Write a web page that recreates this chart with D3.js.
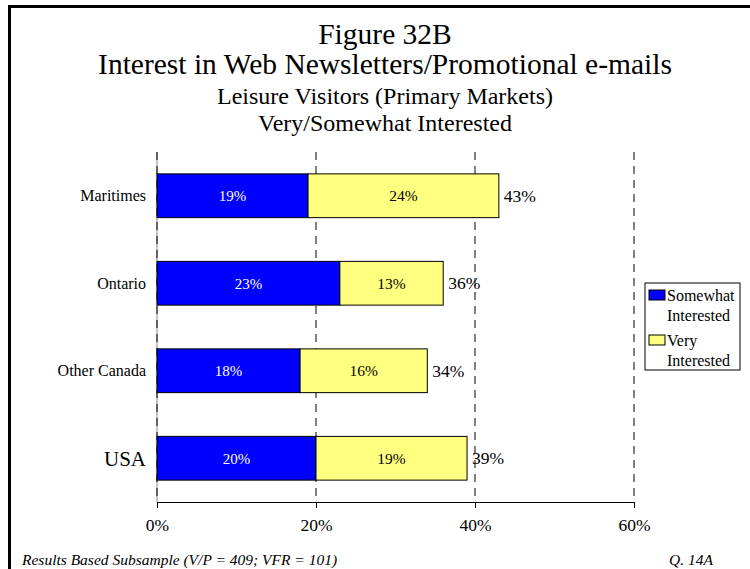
<!DOCTYPE html>
<meta charset="utf-8">
<style>
    body { margin: 0; background: #fff; }
    svg { display: block; }
    svg text { font-family: "Liberation Serif", "Times New Roman", serif; }
    .grid line { stroke: #000; stroke-width: 1px; stroke-dasharray: 8, 6; }
    .title { font-size: 29.5px; text-anchor: middle; }
    .subtitle { font-size: 24px; text-anchor: middle; }
    .foot { font-size: 15.5px; font-style: italic; }
</style>
<body>
<script src="https://d3js.org/d3.v7.min.js"></script>
<script>
    // chart data
    var categories = ["Maritimes", "Ontario", "Other Canada", "USA"];
    var somewhat = [19, 23, 18, 20];
    var very = [24, 13, 16, 19];
    var totals = [43, 36, 34, 39];
    var ticks = [0, 20, 40, 60];
    var seriesNames = ["Somewhat Interested", "Very Interested"];
    var colors = ["#0000ff", "#ffff80"];

    var width = 750, height = 569;
    var plot = {left: 157, right: 634, top: 152, bottom: 502};
    var cx = 385;

    var svg = d3.select("body").append("svg")
        .attr("width", width)
        .attr("height", height);

    // frame (left + top edges)
    svg.append("path")
        .attr("d", "M9.5," + height + "V6.5H" + width)
        .attr("fill", "none")
        .attr("stroke", "#000")
        .attr("stroke-width", 3);

    // titles
    svg.append("text").attr("class", "title").attr("x", cx).attr("y", 44).text("Figure 32B");
    svg.append("text").attr("class", "title").attr("x", cx).attr("y", 74)
        .text("Interest in Web Newsletters/Promotional e-mails");
    svg.append("text").attr("class", "subtitle").attr("x", cx).attr("y", 104)
        .text("Leisure Visitors (Primary Markets)");
    svg.append("text").attr("class", "subtitle").attr("x", cx).attr("y", 131)
        .text("Very/Somewhat Interested");

    var x = d3.scaleLinear().domain([0, 60]).range([plot.left, plot.right]);
    var y = d3.scaleBand().domain(categories).range([plot.top, plot.bottom])
        .paddingInner(0.5).paddingOuter(0.25);

    // dashed gridlines
    svg.append("line")
        .attr("x1", x(0)).attr("x2", x(0))
        .attr("y1", plot.top).attr("y2", plot.bottom)
        .attr("stroke", "#888");
    svg.append("g").attr("class", "grid")
        .selectAll("line").data(ticks).enter().append("line")
        .attr("x1", function(d) { return x(d); })
        .attr("x2", function(d) { return x(d); })
        .attr("y1", plot.top)
        .attr("y2", plot.bottom);

    // x axis
    var xAxis = svg.append("g")
        .attr("transform", "translate(0," + plot.bottom + ")")
        .call(d3.axisBottom(x).tickValues(ticks).tickSize(6)
            .tickFormat(function(d) { return d + "%"; }));
    xAxis.attr("font-family", "Liberation Serif").attr("font-size", 17.5);
    xAxis.select(".domain").attr("d", "M" + x(0) + ",0.5H" + x(60));
    xAxis.selectAll("text").attr("dy", 0).attr("y", 29);

    // bars
    var rows = categories.map(function(c, i) {
        return {cat: c, s: somewhat[i], v: very[i], t: totals[i]};
    });

    var g = svg.selectAll(".row").data(rows).enter().append("g").attr("class", "row");

    g.append("rect")
        .attr("x", x(0))
        .attr("y", function(d) { return y(d.cat); })
        .attr("width", function(d) { return x(d.s) - x(0); })
        .attr("height", y.bandwidth())
        .attr("fill", colors[0])
        .attr("stroke", "#000");

    g.append("rect")
        .attr("x", function(d) { return x(d.s); })
        .attr("y", function(d) { return y(d.cat); })
        .attr("width", function(d) { return x(d.s + d.v) - x(d.s); })
        .attr("height", y.bandwidth())
        .attr("fill", colors[1])
        .attr("stroke", "#000");

    var mid = function(d) { return y(d.cat) + y.bandwidth() / 2; };

    g.append("text")
        .attr("x", function(d) { return (x(0) + x(d.s)) / 2; })
        .attr("y", mid).attr("dy", "0.35em")
        .attr("text-anchor", "middle")
        .attr("fill", "#fff")
        .style("font-size", "15px")
        .text(function(d) { return d.s + "%"; });

    g.append("text")
        .attr("x", function(d) { return (x(d.s) + x(d.s + d.v)) / 2; })
        .attr("y", mid).attr("dy", "0.35em")
        .attr("text-anchor", "middle")
        .style("font-size", "15.5px")
        .text(function(d) { return d.v + "%"; });

    g.append("text")
        .attr("x", function(d) { return x(d.s + d.v) + 5; })
        .attr("y", mid).attr("dy", "0.35em")
        .style("font-size", "17.5px")
        .text(function(d) { return d.t + "%"; });

    // category labels
    g.append("text")
        .attr("x", plot.left - 11)
        .attr("y", mid).attr("dy", "0.35em")
        .attr("text-anchor", "end")
        .style("font-size", function(d) { return d.cat == "USA" ? "21px" : "16px"; })
        .text(function(d) { return d.cat; });

    // legend
    var legend = svg.append("g").attr("transform", "translate(645,283)");
    legend.append("rect")
        .attr("width", 95).attr("height", 87)
        .attr("fill", "#fff").attr("stroke", "#000");
    seriesNames.forEach(function(name, i) {
        var words = name.split(" ");
        var ly = 7 + i * 45;
        legend.append("rect")
            .attr("x", 4).attr("y", ly)
            .attr("width", 16).attr("height", 10)
            .attr("fill", colors[i]).attr("stroke", "#000");
        legend.append("text")
            .attr("x", 22).attr("y", ly + 11)
            .style("font-size", "16px")
            .text(words[0]);
        legend.append("text")
            .attr("x", 22).attr("y", ly + 31)
            .style("font-size", "16px")
            .text(words[1]);
    });

    // footnotes
    svg.append("text").attr("class", "foot").attr("x", 22).attr("y", 565)
        .text("Results Based Subsample (V/P = 409; VFR = 101)");
    svg.append("text").attr("class", "foot").attr("x", 669).attr("y", 565)
        .text("Q. 14A");
</script>
</body>
